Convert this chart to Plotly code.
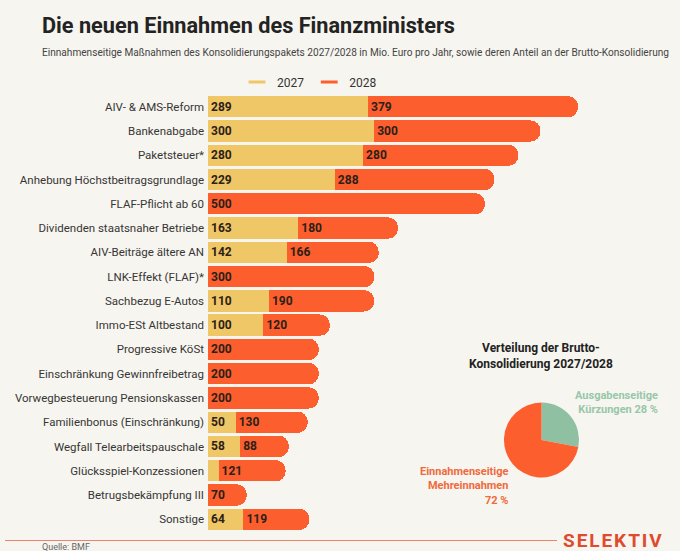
import plotly.graph_objects as go

# ---------------- data ----------------
categories = [
    "AIV- & AMS-Reform", "Bankenabgabe", "Paketsteuer*", "Anhebung Höchstbeitragsgrundlage",
    "FLAF-Pflicht ab 60", "Dividenden staatsnaher Betriebe", "AIV-Beiträge ältere AN",
    "LNK-Effekt (FLAF)*", "Sachbezug E-Autos", "Immo-ESt Altbestand", "Progressive KöSt",
    "Einschränkung Gewinnfreibetrag", "Vorwegbesteuerung Pensionskassen",
    "Familienbonus (Einschränkung)", "Wegfall Telearbeitspauschale", "Glücksspiel-Konzessionen",
    "Betrugsbekämpfung III", "Sonstige",
]
values_2027 = [289, 300, 280, 229, 0, 163, 142, 0, 110, 100, 0, 0, 0, 50, 58, 19, 0, 64]
values_2028 = [379, 300, 280, 288, 500, 180, 166, 300, 190, 120, 200, 200, 200, 130, 88, 121, 70, 119]

pie_labels = ["Ausgabenseitige Kürzungen", "Einnahmenseitige Mehreinnahmen"]
pie_values = [28, 72]

# ---------------- style ----------------
BG = "#f7f5ef"
YELLOW = "#efc766"
ORANGE = "#fd5e2d"
GREEN = "#8fc0a2"
FONT = "Roboto"
W, H = 680, 551


def px_x(px):
    return px / W


def px_y(px):
    return 1 - px / H


def label(v, min_show=30):
    return str(v) if v >= min_show else ""


fig = go.Figure()

fig.add_trace(go.Bar(
    y=categories, x=values_2027, orientation="h", name="2027",
    marker=dict(color=YELLOW, line=dict(width=0)),
    text=[label(v) for v in values_2027], textposition="inside",
    insidetextanchor="start", textangle=0, constraintext="none",
    textfont=dict(family=FONT, size=12, color="#2b2118", weight="bold"),
    showlegend=False, hoverinfo="skip",
))
fig.add_trace(go.Bar(
    y=categories, x=values_2028, orientation="h", name="2028",
    marker=dict(color=ORANGE, line=dict(width=0)),
    text=[label(v) for v in values_2028], textposition="inside",
    insidetextanchor="start", textangle=0, constraintext="none",
    textfont=dict(family=FONT, size=12, color="#2b2118", weight="bold"),
    showlegend=False, hoverinfo="skip",
))

# legend entries (line style symbols)
for nm, col in [("2027", YELLOW), ("2028", ORANGE)]:
    fig.add_trace(go.Scatter(
        x=[None], y=[None], mode="markers", name=nm,
        marker=dict(symbol="line-ew", size=12, color=col, line=dict(width=3, color=col)),
        showlegend=True,
    ))

fig.add_trace(go.Pie(
    labels=pie_labels, values=pie_values, sort=False, direction="clockwise", rotation=0,
    marker=dict(colors=[GREEN, ORANGE], line=dict(width=0)),
    textinfo="none", hoverinfo="skip", showlegend=False,
    domain=dict(x=[px_x(504), px_x(579)], y=[px_y(477.5), px_y(402.5)]),
))

fig.update_layout(
    width=W, height=H,
    margin=dict(l=0, r=0, t=0, b=0),
    paper_bgcolor=BG, plot_bgcolor=BG,
    barmode="stack", bargap=0.12, barcornerradius=10,
    font=dict(family=FONT, color="#333"),
    xaxis=dict(domain=[px_x(208), 1], range=[0, 852], visible=False, fixedrange=True),
    yaxis=dict(
        domain=[px_y(531.4), px_y(94.6)], type="category", range=[17.5, -0.5],
        showgrid=False, zeroline=False, showline=False, ticks="", fixedrange=True,
        tickfont=dict(family=FONT, size=11.5, color="#363636"), ticklabelstandoff=3,
    ),
    legend=dict(
        orientation="h", x=px_x(237), xanchor="left", y=px_y(82), yanchor="middle",
        font=dict(family=FONT, size=12, color="#333"), bgcolor="rgba(0,0,0,0)",
        itemwidth=30, tracegroupgap=0, traceorder="normal",
    ),
)

HS = "\u200a"
annotations = [
    dict(text="<b>Die neuen Einnahmen des Finanzministers</b>", x=px_x(40), y=px_y(25),
         xanchor="left", yanchor="middle", font=dict(family=FONT, size=21.7, color="#232323")),
    dict(text="Einnahmenseitige Maßnahmen des Konsolidierungspakets 2027/2028 in Mio. Euro pro Jahr, "
              "sowie deren Anteil an der Brutto-Konsolidierung",
         x=px_x(40), y=px_y(52), xanchor="left", yanchor="middle",
         font=dict(family=FONT, size=10.1, color="#444")),
    dict(text="<b>Verteilung der Brutto-<br>Konsolidierung 2027/2028</b>", x=px_x(541), y=px_y(355.5),
         xanchor="center", yanchor="middle", align="center",
         font=dict(family=FONT, size=12, color="#222")),
    dict(text="<b>Ausgabenseitige<br>Kürzungen 28 %</b>", x=px_x(660), y=px_y(402.5),
         xanchor="right", yanchor="middle", align="right",
         font=dict(family=FONT, size=11, color="#97c7aa")),
    dict(text="<b>Einnahmenseitige<br>Mehreinnahmen<br>72 %</b>", x=px_x(511), y=px_y(486),
         xanchor="right", yanchor="middle", align="right",
         font=dict(family=FONT, size=11, color="#f06a3c")),
    dict(text="<b>" + HS.join("SELEKTIV") + "</b>", x=px_x(664), y=px_y(540.5),
         xanchor="right", yanchor="middle",
         font=dict(family=FONT, size=19, color="#e04a2e")),
    dict(text="Quelle: BMF", x=px_x(40), y=px_y(547), xanchor="left", yanchor="middle",
         font=dict(family=FONT, size=9, color="#666")),
]
for a in annotations:
    a.update(xref="paper", yref="paper", showarrow=False)
fig.update_layout(annotations=annotations)

fig.add_shape(type="line", xref="paper", yref="paper", x0=px_x(5), x1=px_x(557),
              y0=px_y(540.5), y1=px_y(540.5), line=dict(color="#e9856b", width=1.2))

fig.write_html(
    "out.html",
    config={"displayModeBar": False, "staticPlot": False},
    post_script="document.body.style.margin='0';document.body.style.overflow='hidden';",
)
